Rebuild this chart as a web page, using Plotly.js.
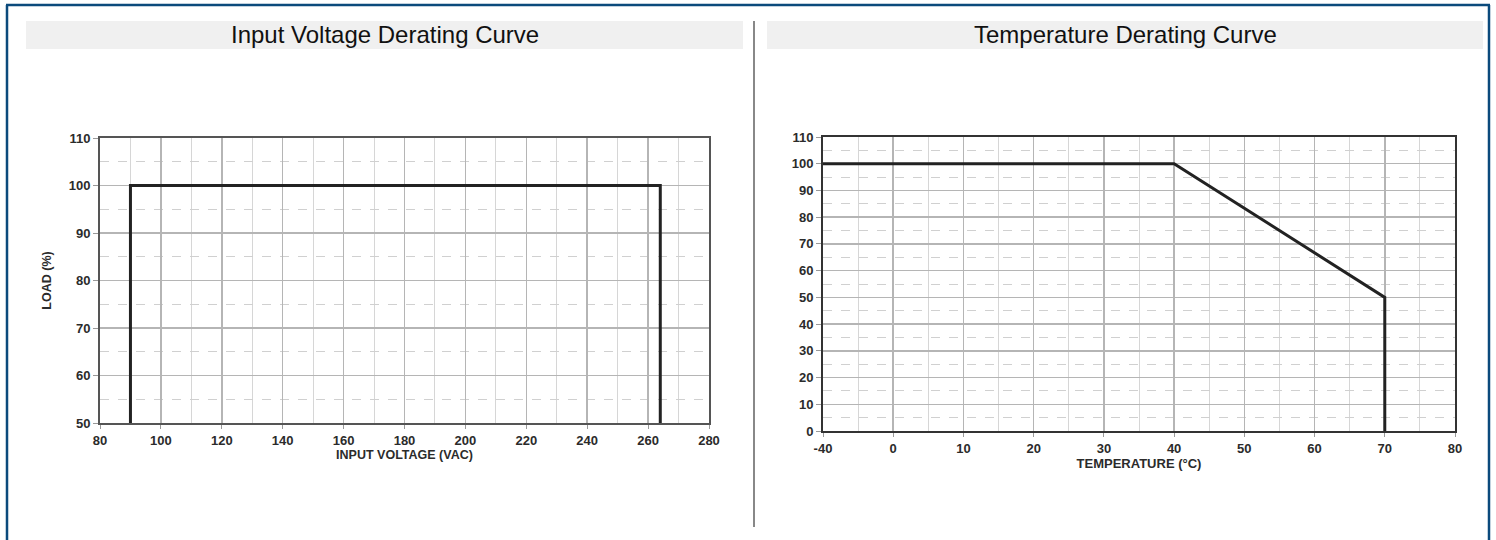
<!DOCTYPE html>
<html>
<head>
<meta charset="utf-8">
<script src="https://cdn.plot.ly/plotly-3.0.1.min.js"></script>
<style>
  html, body { margin: 0; padding: 0; background: #ffffff; }
  #chart { width: 1496px; height: 540px; }
</style>
</head>
<body>
<div id="chart"></div>
<script>
// ---- Data ----
const voltageTitle = "Input Voltage Derating Curve";
const tempTitle = "Temperature Derating Curve";

const inputVoltage = [90, 90, 264, 264];
const voltageLoad = [50, 100, 100, 50];

const temperature = [-40, 40, 70, 70];
const tempLoad = [100, 100, 50, 0];

const tempTickValues = [-40, 0, 10, 20, 30, 40, 50, 60, 70, 80];
const tempTickLabels = ["-40", "0", "10", "20", "30", "40", "50", "60", "70", "80"];

// Broken temperature axis: the -40..0 span is drawn as one 10-degree step
function tempAxisPos(t) { return t < 0 ? t / 4 : t; }

const W = 1496, H = 540;
const px = x => x / W;
const py = y => 1 - y / H;

const tickFont = { family: "Liberation Sans, Arial, sans-serif", size: 13, color: "#2b2b2b", weight: "bold" };
const axTitleFont = { family: "Liberation Sans, Arial, sans-serif", size: 12.5, color: "#2b2b2b", weight: "bold" };

const traces = [
  {
    x: inputVoltage, y: voltageLoad, xaxis: "x", yaxis: "y",
    mode: "lines", line: { color: "#222222", width: 3 },
    hoverinfo: "x+y", showlegend: false
  },
  {
    x: temperature.map(tempAxisPos), y: tempLoad, xaxis: "x2", yaxis: "y2",
    mode: "lines", line: { color: "#222222", width: 3 },
    text: temperature.map(String), hoverinfo: "text+y", showlegend: false
  }
];

const layout = {
  width: W, height: H,
  margin: { l: 0, r: 0, t: 0, b: 0 },
  paper_bgcolor: "#ffffff", plot_bgcolor: "#ffffff",
  showlegend: false,
  xaxis: {
    domain: [px(100), px(709)], anchor: "y",
    range: [80, 280], dtick: 20, tick0: 80,
    showgrid: true, gridcolor: "#b5b5b5", gridwidth: 1.5,
    minor: { dtick: 10, showgrid: true, gridcolor: "#d6d6d6", gridwidth: 1 },
    showline: true, linecolor: "#555555", linewidth: 2, mirror: true,
    ticks: "outside", ticklen: 4, tickcolor: "#999999",
    tickfont: tickFont, zeroline: false,
    title: { text: "INPUT VOLTAGE (VAC)", font: axTitleFont, standoff: 2 }
  },
  yaxis: {
    domain: [py(423), py(138)], anchor: "x",
    range: [50, 110], dtick: 10, tick0: 50,
    showgrid: true, gridcolor: "#b5b5b5", gridwidth: 1.5,
    minor: { dtick: 5, showgrid: true, gridcolor: "#d0d0d0", gridwidth: 1, griddash: "dash" },
    showline: true, linecolor: "#555555", linewidth: 2, mirror: true,
    ticks: "outside", ticklen: 5, tickcolor: "#999999",
    tickfont: tickFont, zeroline: false,
    title: { text: "LOAD (%)", font: axTitleFont, standoff: 14 }
  },
  xaxis2: {
    domain: [px(823), px(1455)], anchor: "y2",
    range: [-10, 80],
    tickmode: "array",
    tickvals: tempTickValues.map(tempAxisPos), ticktext: tempTickLabels,
    showgrid: true, gridcolor: "#b5b5b5", gridwidth: 1.5,
    minor: { dtick: 5, tick0: 0, showgrid: true, gridcolor: "#d6d6d6", gridwidth: 1 },
    showline: true, linecolor: "#333333", linewidth: 2, mirror: true,
    ticks: "outside", ticklen: 4, tickcolor: "#999999",
    tickfont: tickFont, zeroline: false,
    title: { text: "TEMPERATURE (°C)", font: { family: "Liberation Sans, Arial, sans-serif", size: 13, color: "#2b2b2b", weight: "bold" }, standoff: 0 }
  },
  yaxis2: {
    domain: [py(431), py(137)], anchor: "x2",
    range: [0, 110], dtick: 10, tick0: 0,
    showgrid: true, gridcolor: "#b5b5b5", gridwidth: 1.5,
    minor: { dtick: 5, showgrid: true, gridcolor: "#d0d0d0", gridwidth: 1, griddash: "dash" },
    showline: true, linecolor: "#333333", linewidth: 2, mirror: true,
    ticks: "outside", ticklen: 5, tickcolor: "#999999",
    tickfont: tickFont, zeroline: false
  },
  shapes: [
    // title bars
    { type: "rect", xref: "paper", yref: "paper", x0: px(26), x1: px(743), y0: py(49), y1: py(21),
      fillcolor: "#f0f0f0", line: { width: 0 }, layer: "below" },
    { type: "rect", xref: "paper", yref: "paper", x0: px(767), x1: px(1483), y0: py(49), y1: py(21),
      fillcolor: "#f0f0f0", line: { width: 0 }, layer: "below" },
    // divider
    { type: "line", xref: "paper", yref: "paper", x0: px(754), x1: px(754), y0: py(21), y1: py(527),
      line: { color: "#888888", width: 2 } },
    // outer frame
    { type: "line", xref: "paper", yref: "paper", x0: px(6), x1: px(1490), y0: py(5), y1: py(5),
      line: { color: "#0b4a7c", width: 2.5 } },
    { type: "line", xref: "paper", yref: "paper", x0: px(7), x1: px(7), y0: py(5), y1: py(540),
      line: { color: "#0b4a7c", width: 2.5 } },
    { type: "line", xref: "paper", yref: "paper", x0: px(1489), x1: px(1489), y0: py(5), y1: py(540),
      line: { color: "#0b4a7c", width: 2.5 } }
  ],
  annotations: [
    { text: voltageTitle, xref: "paper", yref: "paper", x: px(384.5), y: py(35),
      xanchor: "center", yanchor: "middle", showarrow: false,
      font: { family: "Liberation Sans, Arial, sans-serif", size: 24, color: "#111111" } },
    { text: tempTitle, xref: "paper", yref: "paper", x: px(1125), y: py(35),
      xanchor: "center", yanchor: "middle", showarrow: false,
      font: { family: "Liberation Sans, Arial, sans-serif", size: 24, color: "#111111" } }
  ]
};

Plotly.newPlot("chart", traces, layout, { displayModeBar: false, staticPlot: true });
</script>
</body>
</html>
